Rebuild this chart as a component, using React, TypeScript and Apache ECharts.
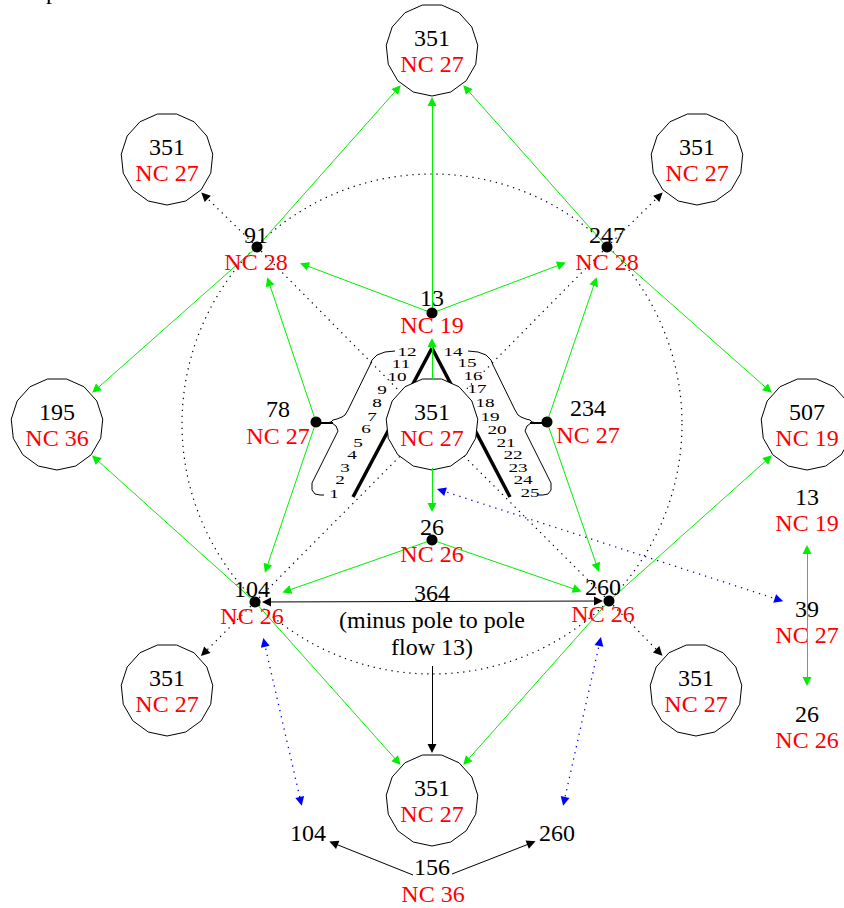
import React, { useEffect, useRef } from 'react';
import * as echarts from 'echarts';

// ---------- values ----------
const poleIds = ['top', 'topLeft', 'topRight', 'left', 'right', 'center', 'bottomLeft', 'bottom', 'bottomRight'];
const poleValues = [351, 351, 351, 195, 507, 351, 351, 351, 351];
const poleNC = [27, 27, 27, 36, 19, 27, 27, 27, 27];

const junctionIds = ['n91', 'n247', 'n13', 'n78', 'n234', 'n26', 'n104', 'n260'];
const junctionValues = [91, 247, 13, 78, 234, 26, 104, 260];
const junctionNC = [28, 28, 19, 27, 27, 26, 26, 26];

const sideIds = ['s13', 's39', 's26'];
const sideValues = [13, 39, 26];
const sideNC = [19, 27, 26];

const footIds = ['b104', 'b260', 'b156'];
const footValues = [104, 260, 156];
const footNC = [null, null, 36];

const flowTotal = 364;
const flowNote = ['(minus pole to pole', 'flow 13)'];

const segmentLeft = [1, 2, 3, 4, 5, 6, 7, 8, 9, 10, 11, 12];
const segmentRight = [14, 15, 16, 17, 18, 19, 20, 21, 22, 23, 24, 25];

// ---------- layout (diagram positions, px) ----------
const layout: Record<string, [number, number]> = {
  top: [432, 50], topLeft: [167, 159], topRight: [697, 159],
  left: [57, 424], right: [807, 424], center: [432, 424],
  bottomLeft: [167, 690], bottom: [432, 800], bottomRight: [696, 690],
  n91: [257, 247], n247: [607, 247], n13: [432, 313], n78: [316, 422],
  n234: [547, 422], n26: [432, 540], n104: [255, 602], n260: [609, 601],
  s13: [807, 497], s39: [807, 609], s26: [807, 714],
  b104: [308, 833], b260: [557, 833], b156: [432, 867],
  flow: [432, 593], flowEnd: [432, 647],
  flowA: [437, 489], b156L: [413, 875], b156R: [452, 874],
  apex: [432, 348], legL: [353, 497], legR: [510, 497],
};
const junctionLabelAt: Record<string, [number, number]> = {
  n91: [256, 235], n247: [607, 235], n13: [432, 298], n78: [278, 409],
  n234: [588, 408], n26: [432, 527], n104: [252, 589], n260: [603, 587],
};
const segLeftAt: [number, number][] = [
  [334, 494], [340, 480], [345, 468], [352, 455], [358, 443], [366, 429],
  [372, 417], [377, 403], [382, 390], [397, 377], [401, 364], [407, 352],
];
const segRightAt: [number, number][] = [
  [453, 352], [467, 363], [473, 376], [477, 389], [485, 403], [490, 417],
  [497, 430], [506, 443], [513, 455], [518, 468], [523, 480], [530, 493],
];
const bracketUpper: [number, number][] = [
  [395, 351], [385, 352], [377, 355], [372, 360], [370, 365], [348, 410], [345, 415],
  [342, 417], [337, 419], [333, 420], [331, 422], [326, 423],
];
const bracketLower: [number, number][] = [
  [332, 423], [336, 426], [338, 431], [312, 483], [312, 490], [315, 494], [320, 495], [324, 495],
];
const bracketTick: [number, number][] = [[321, 423], [333, 423]];
const MIRROR_X = 863;

const BIG_CIRCLE_R = 250;
const POLY_R = 46;
const ARROW = 9;

type End = string | [number, number];
type Edge = [End, End, number, number];

const greenEdges: Edge[] = [
  ['n13', 'top', 0, 47], ['n13', 'n91', 0, 46], ['n13', 'n247', 0, 44],
  ['n91', 'top', 0, 47], ['n247', 'top', 0, 47], ['n91', 'left', 0, 47], ['n247', 'right', 0, 47],
  ['n78', 'n91', 0, 32], ['n78', 'n104', 0, 31], ['n234', 'n247', 0, 32], ['n234', 'n260', 0, 31],
  ['n26', 'n104', 0, 29], ['n26', 'n260', 0, 29],
  ['n104', 'left', 0, 47], ['n260', 'right', 0, 47], ['n104', 'bottom', 0, 47], ['n260', 'bottom', 0, 47],
  ['center', 'n13', 44, 25], ['center', 'n26', 44, 28],
  ['s39', 's13', 0, 48], ['s39', 's26', 0, 28],
];
const dottedArrowEdges: Edge[] = [
  ['n91', 'topLeft', 0, 48], ['n247', 'topRight', 0, 48],
  ['n104', 'bottomLeft', 0, 48], ['n260', 'bottomRight', 0, 48],
];
const dottedPlainEdges: Edge[] = [
  ['n91', 'center', 0, 0], ['n247', 'center', 0, 0], ['n104', 'center', 0, 0], ['n260', 'center', 0, 0],
];
const blueEdges: Edge[] = [
  ['n104', 'b104', 37, 28], ['n260', 'b260', 37, 28], ['flowA', 's39', 0, 25],
];
const blackDoubleEdges: Edge[] = [['n104', 'n260', 7, 6]];
const blackArrowEdges: Edge[] = [
  ['flowEnd', 'bottom', 19, 47], ['b156L', 'b104', 0, 23], ['b156R', 'b260', 0, 23],
];
const thickEdges: Edge[] = [['apex', 'legL', 0, 0], ['apex', 'legR', 0, 0]];

function pt(e: End): [number, number] {
  return typeof e === 'string' ? layout[e] : e;
}
function seg(edge: Edge, arrowStart: boolean, arrowEnd: boolean) {
  const a = pt(edge[0]);
  const b = pt(edge[1]);
  const dx = b[0] - a[0];
  const dy = b[1] - a[1];
  const len = Math.hypot(dx, dy);
  const ux = dx / len;
  const uy = dy / len;
  const s = edge[2] + (arrowStart ? ARROW / 2 : 0);
  const e = edge[3] + (arrowEnd ? ARROW / 2 : 0);
  return [[a[0] + ux * s, a[1] + uy * s], [b[0] - ux * e, b[1] - uy * e]];
}

const FONT = "'Liberation Serif', 'Times New Roman', serif";
const BLACK = '#000000';
const RED = '#ff0000';
const GREEN = '#00ee00';
const BLUE = '#0000ff';

type T = { x: number; y: number; text: string; color: string; size: number; sx?: number };
function buildTexts(): T[] {
  const t: T[] = [];
  poleIds.forEach((id, i) => {
    const [x, y] = layout[id];
    t.push({ x, y: y - 12, text: String(poleValues[i]), color: BLACK, size: 24 });
    t.push({ x, y: y + 14, text: 'NC ' + poleNC[i], color: RED, size: 24 });
  });
  junctionIds.forEach((id, i) => {
    const [x, y] = junctionLabelAt[id];
    t.push({ x, y, text: String(junctionValues[i]), color: BLACK, size: 24 });
    t.push({ x, y: y + 27, text: 'NC ' + junctionNC[i], color: RED, size: 24 });
  });
  sideIds.forEach((id, i) => {
    const [x, y] = layout[id];
    t.push({ x, y, text: String(sideValues[i]), color: BLACK, size: 24 });
    t.push({ x, y: y + 26, text: 'NC ' + sideNC[i], color: RED, size: 24 });
  });
  footIds.forEach((id, i) => {
    const [x, y] = layout[id];
    t.push({ x, y, text: String(footValues[i]), color: BLACK, size: 24 });
    if (footNC[i] != null) t.push({ x: x + 1, y: y + 27, text: 'NC ' + footNC[i], color: RED, size: 24 });
  });
  const [fx, fy] = layout.flow;
  t.push({ x: fx, y: fy, text: String(flowTotal), color: BLACK, size: 24 });
  flowNote.forEach((s, i) => t.push({ x: fx, y: fy + 27 * (i + 1), text: s, color: BLACK, size: 24 }));
  segmentLeft.forEach((v, i) => t.push({ x: segLeftAt[i][0], y: segLeftAt[i][1], text: String(v), color: BLACK, size: 12, sx: 1.6 }));
  segmentRight.forEach((v, i) => t.push({ x: segRightAt[i][0], y: segRightAt[i][1], text: String(v), color: BLACK, size: 12, sx: 1.6 }));
  t.push({ x: 52, y: -9, text: 'p', color: BLACK, size: 24 });
  return t;
}

function linesSeries(data: number[][][], color: string, width: number, type: any, symbol: string[], z: number, polyline = false) {
  return {
    type: 'lines',
    coordinateSystem: 'cartesian2d',
    polyline,
    silent: true,
    z,
    symbol,
    symbolSize: ARROW,
    lineStyle: { color, width, type, opacity: 1, curveness: 0 },
    data: data.map((c) => ({ coords: c })),
  };
}

export default function App() {
  const ref = useRef<HTMLDivElement>(null);
  useEffect(() => {
    document.body.style.margin = '0';
    if (!ref.current) return;
    const chart = echarts.init(ref.current, undefined, { renderer: 'svg' });
    const texts = buildTexts();
    const mirror = (p: [number, number][]) => p.map(([x, y]) => [MIRROR_X - x, y]);
    const option: any = {
      animation: false,
      backgroundColor: '#ffffff',
      grid: { left: 0, right: 0, top: 0, bottom: 0 },
      xAxis: { type: 'value', min: 0, max: 844, show: false },
      yAxis: { type: 'value', min: 0, max: 908, inverse: true, show: false },
      series: [
        {
          type: 'custom',
          silent: true,
          z: 1,
          data: [layout.center],
          renderItem: (params: any, api: any) => {
            const c = api.coord([api.value(0), api.value(1)]);
            const r = api.size([BIG_CIRCLE_R, 0])[0];
            return {
              type: 'circle',
              shape: { cx: c[0], cy: c[1], r },
              style: { fill: 'none', stroke: '#000', lineWidth: 1.2, lineDash: [1.3, 4.7] },
            };
          },
        },
        linesSeries(dottedPlainEdges.map((e) => seg(e, false, false)), '#000', 1.2, [1.3, 4.7], ['none', 'none'], 2),
        linesSeries(thickEdges.map((e) => seg(e, false, false)), '#000', 3.5, 'solid', ['none', 'none'], 2),
        linesSeries(
          [bracketUpper, bracketLower, mirror(bracketUpper), mirror(bracketLower)] as any,
          '#000', 1, 'solid', ['none', 'none'], 2, true
        ),
        linesSeries([bracketTick, mirror(bracketTick)] as any, '#000', 2, 'solid', ['none', 'none'], 2),
        {
          type: 'custom',
          silent: true,
          z: 3,
          data: poleIds.map((id) => layout[id]),
          renderItem: (params: any, api: any) => {
            const c = api.coord([api.value(0), api.value(1)]);
            const r = api.size([POLY_R, 0])[0];
            const points: number[][] = [];
            for (let k = 0; k < 15; k++) {
              const a = Math.PI / 2 + (k * 2 * Math.PI) / 15;
              points.push([c[0] + r * Math.cos(a), c[1] + r * Math.sin(a)]);
            }
            return { type: 'polygon', shape: { points }, style: { fill: '#fff', stroke: '#000', lineWidth: 1 } };
          },
        },
        linesSeries(greenEdges.map((e) => seg(e, false, true)), GREEN, 1, 'solid', ['none', 'triangle'], 4),
        linesSeries(dottedArrowEdges.map((e) => seg(e, false, true)), '#000', 1.2, [1.3, 4.7], ['none', 'triangle'], 4),
        linesSeries(blueEdges.map((e) => seg(e, true, true)), BLUE, 1.3, [1.3, 5], ['triangle', 'triangle'], 4),
        linesSeries(blackDoubleEdges.map((e) => seg(e, true, true)), '#000', 1, 'solid', ['triangle', 'triangle'], 4),
        linesSeries(blackArrowEdges.map((e) => seg(e, false, true)), '#000', 1, 'solid', ['none', 'triangle'], 4),
        {
          type: 'scatter',
          silent: true,
          z: 5,
          symbol: 'circle',
          symbolSize: 11,
          itemStyle: { color: '#000', opacity: 1 },
          data: junctionIds.map((id) => layout[id]),
        },
        {
          type: 'custom',
          silent: true,
          z: 6,
          data: texts.map((t) => [t.x, t.y]),
          renderItem: (params: any, api: any) => {
            const t = texts[params.dataIndex];
            const c = api.coord([api.value(0), api.value(1)]);
            const sx = t.sx || 1;
            return {
              type: 'group',
              x: c[0],
              y: c[1],
              scaleX: sx,
              scaleY: 1,
              children: [
                {
                  type: 'text',
                  style: {
                    text: t.text,
                    x: 0,
                    y: 0,
                    fill: t.color,
                    fontSize: t.size,
                    fontFamily: FONT,
                    align: 'center',
                    verticalAlign: 'middle',
                  },
                },
              ],
            };
          },
        },
      ],
    };
    chart.setOption(option);
    return () => chart.dispose();
  }, []);
  return <div ref={ref} style={{ width: 844, height: 908 }} />;
}
